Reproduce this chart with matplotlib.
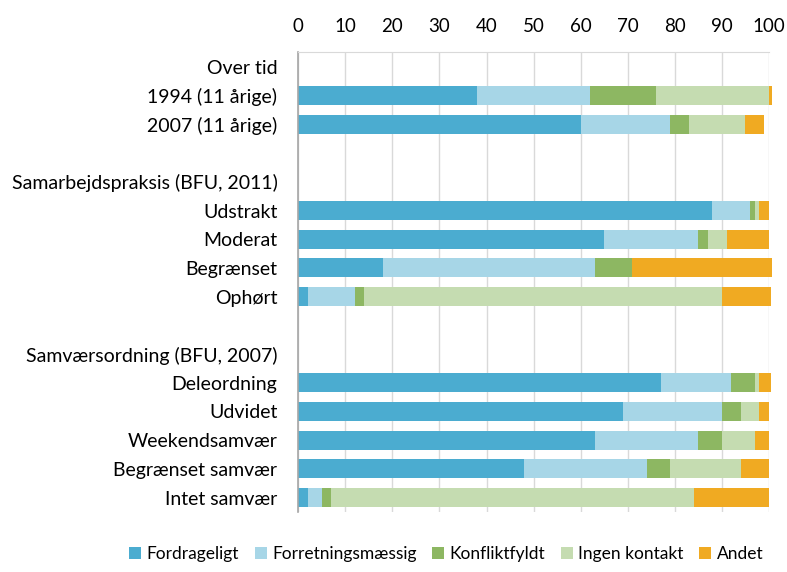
import numpy as np
import matplotlib.pyplot as plt

# Data (percent)
rows = ["Over tid", "1994 (11 årige)", "2007 (11 årige)", "",
        "Samarbejdspraksis (BFU, 2011)", "Udstrakt", "Moderat", "Begrænset", "Ophørt", "",
        "Samværsordning (BFU, 2007)", "Deleordning", "Udvidet", "Weekendsamvær",
        "Begrænset samvær", "Intet samvær"]
series = ["Fordrageligt", "Forretningsmæssig", "Konfliktfyldt", "Ingen kontakt", "Andet"]
fordrageligt = [0, 38, 60, 0, 0, 88, 65, 18, 2, 0, 0, 77, 69, 63, 48, 2]
forretning = [0, 24, 19, 0, 0, 8, 20, 45, 10, 0, 0, 15, 21, 22, 26, 3]
konflikt = [0, 14, 4, 0, 0, 1, 2, 8, 2, 0, 0, 5, 4, 5, 5, 2]
ingen = [0, 24, 12, 0, 0, 1, 4, 0, 76, 0, 0, 1, 4, 7, 15, 77]
andet = [0, 0.6, 4, 0, 0, 2, 9, 29.6, 10.5, 0, 0, 2.5, 2, 3, 6, 16]

colors = ["#4BACD0", "#A7D6E7", "#8DB762", "#C5DCB1", "#F0AA22"]

plt.rcParams['font.family'] = ['Lato', 'DejaVu Sans']

fig = plt.figure(figsize=(7.87, 5.72), dpi=100)
ax = fig.add_axes([0.379, 0.105, 0.598, 0.804])

y = np.arange(len(rows))
left = np.zeros(len(rows))
for name, vals, c in zip(series, [fordrageligt, forretning, konflikt, ingen, andet], colors):
    vals = np.array(vals, dtype=float)
    ax.barh(y, vals, left=left, height=0.66, color=c, label=name, clip_on=False, zorder=2)
    left += vals

ax.set_xlim(0, 100)
ax.set_ylim(len(rows) - 0.5, -0.52)
ax.set_xticks(np.arange(0, 101, 10))
ax.xaxis.tick_top()
ax.tick_params(axis='x', length=0, pad=12, labelsize=13.5, colors='black')
ax.set_yticks(y)
ax.set_yticklabels(rows)
ax.tick_params(axis='y', length=0, pad=15, labelsize=14)
ax.grid(axis='x', color='#D9D9D9', linewidth=1, zorder=0)
ax.set_axisbelow(True)
for s in ['right', 'bottom']:
    ax.spines[s].set_visible(False)
ax.spines['top'].set_color('#D9D9D9')
ax.spines['left'].set_color('#A6A6A6')
ax.spines['left'].set_linewidth(1.2)

fig.legend(loc='center', bbox_to_anchor=(0.567, 0.032), ncol=5, frameon=False,
           fontsize=12.5, handlelength=0.7, handleheight=0.7, handletextpad=0.3,
           columnspacing=0.9)

fig.savefig("out.png", dpi=100)
